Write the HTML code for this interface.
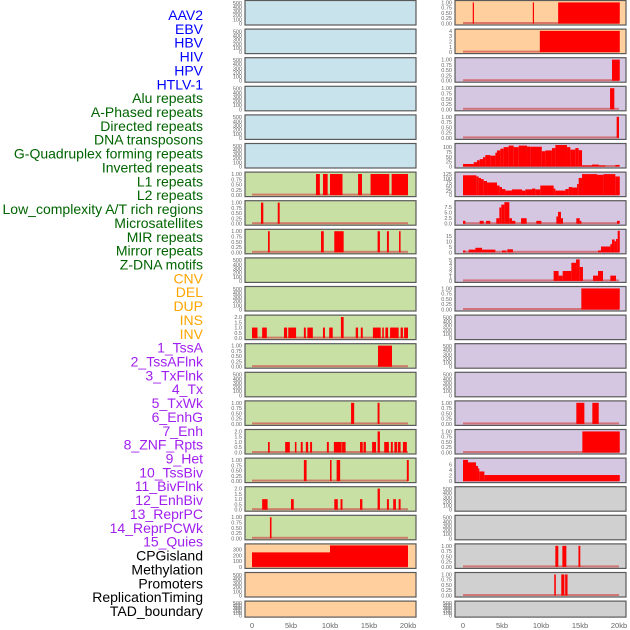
<!DOCTYPE html>
<html><head><meta charset="utf-8">
<style>
body{margin:0;background:#fff;}
svg{display:block;font-family:"Liberation Sans",sans-serif;}
</style></head>
<body>
<svg id="chart" width="630" height="630" viewBox="0 0 630 630"></svg>
<script>
// ---- data ----
const labels=["AAV2","EBV","HBV","HIV","HPV","HTLV-1","Alu repeats","A-Phased repeats","Directed repeats","DNA transposons","G-Quadruplex forming repeats","Inverted repeats","L1 repeats","L2 repeats","Low_complexity A/T rich regions","Microsatellites","MIR repeats","Mirror repeats","Z-DNA motifs","CNV","DEL","DUP","INS","INV","1_TssA","2_TssAFlnk","3_TxFlnk","4_Tx","5_TxWk","6_EnhG","7_Enh","8_ZNF_Rpts","9_Het","10_TssBiv","11_BivFlnk","12_EnhBiv","13_ReprPC","14_ReprPCWk","15_Quies","CPGisland","Methylation","Promoters","ReplicationTiming","TAD_boundary"];
const labelGroups=[6,13,5,15,5];
const xTicks=[0,5,10,15,20];
const xTickLabels=["0","5kb","10kb","15kb","20kb"];

// segments: [startKb, endKb, value]
const leftL1=[[8.2,8.7,1],[9.1,9.7,1],[10.0,11.6,1],[13.6,14.1,1],[15.2,17.6,1],[17.9,20.0,1]];
const leftR7=[[1.15,1.45,1],[3.3,3.55,1]];
const leftR8=[[2.05,2.27,1],[8.85,9.2,1],[10.55,11.75,1],[16.1,16.4,1],[17.3,17.55,1],[18.85,19.05,1]];
const leftR11=[[0,0.7,1],[1.3,1.9,1],[4.1,4.5,1],[4.65,5.65,1],[6.65,6.9,1],[7.1,7.8,1],[9.1,9.35,1],[9.9,10.35,1],[11.4,11.75,2],[13.3,13.6,1],[13.95,14.2,1],[15.5,16.5,1],[16.7,16.9,1],[17.1,17.45,1],[17.7,18.8,1],[19.05,19.35,1],[19.5,20.0,1]];
const leftR12=[[16.15,17.95,1]];
const leftR14=[[12.7,13.1,1],[16.1,16.35,1]];
const leftR15=[[2.05,2.27,1],[4.25,4.85,1],[5.5,5.7,1],[6.25,6.5,1],[6.9,7.2,1],[7.45,7.7,1],[9.6,9.85,1],[10.5,11.5,1],[11.55,12.0,1],[13.85,14.2,1],[14.3,14.6,1],[15.4,15.9,1],[16.1,16.4,2],[16.95,17.55,1],[17.8,18.05,1],[18.25,18.6,1],[18.7,19.05,1],[19.35,19.85,1]];
const leftR16=[[6.65,7.0,1],[10.0,10.2,1],[10.85,11.3,1],[19.85,20.1,1]];
const leftR17=[[1.3,2.0,1],[5.0,5.35,1],[10.55,11.0,1],[11.35,11.6,1],[13.85,14.15,1],[16.1,16.4,2],[17.3,17.55,1],[18.1,18.45,1],[18.8,19.05,1]];
const leftR18=[[2.3,2.5,1]];
const leftCpG=[[0,10,250],[10,20,370]];

const rightR0=[[1.25,1.4,1],[8.95,9.1,1],[12.2,20.1,1]];
const rightR1=[[9.85,20.1,4]];
const rightR2=[[19.1,20.1,1]];
const rightR3=[[18.85,19.4,1]];
const rightR4=[[19.7,20.0,1]];
const gquadBreaks=[0,1.37,1.79,2.14,2.56,2.86,3.5,4.15,4.36,4.79,5.21,5.85,6.5,7.14,8.2,8.63,10.1,10.56,11.4,11.84,13.33,13.76,14.4,14.83,15.26,16.54,17.4,18.25,19.53,20.1];
const gquadValues=[13,22,32,38,48,59,56,71,83,92,100,108,100,108,103,102,79,83,95,111,100,87,95,84,5,10,5,0,8];
const l2Breaks=[0,1.71,2.01,2.31,2.65,3.08,4.36,4.7,5.0,5.43,6.28,7.56,7.99,8.85,9.27,9.91,11.62,11.84,13.12,13.55,13.97,14.62,14.83,15.26,17.18,18.03,19.53,20.1];
const l2Values=[118,111,102,95,84,75,57,48,36,27,34,27,34,39,34,57,39,27,36,48,45,66,102,125,121,125,111];
const rightR7=[[0,0.3,1.3],[2.14,2.65,1.3],[2.95,3.5,1.3],[4.27,4.66,2.5],[4.66,4.91,7.4],[4.91,5.3,8.7],[5.3,5.94,9.8],[5.94,6.28,2.5],[6.28,6.71,1.3],[7.44,8.16,2.5],[9.4,10.04,1.3],[11.97,12.18,3.3],[12.18,12.56,5.4],[12.56,12.82,2.5],[14.53,14.96,2.5],[14.96,15.17,1.3],[19.74,20.1,1.3]];
const rightR8=[[0,0.3,1.7],[0.73,1.58,2.5],[1.58,2.44,4.2],[2.44,4.15,2.5],[5.0,5.56,1.7],[5.68,6.41,2.8],[17.31,17.69,1.7],[17.69,18.89,5.4],[18.89,19.1,7.6],[19.1,19.44,11.9],[19.44,19.62,10.2],[19.62,19.83,12.4],[19.83,20.1,20]];
const rightR9=[[11.62,12.26,2.35],[12.26,12.78,1.25],[12.78,13.89,2.35],[13.89,14.49,4.3],[14.49,14.96,5.1],[14.96,15.38,3.3],[16.67,17.31,1.25],[17.31,17.95,2.35],[18.89,19.62,1.25]];
const rightR10=[[15.17,20.1,1]];
const rightR14=[[14.53,15.56,1],[16.58,17.4,1]];
const rightR15=[[15.3,20.1,1]];
const rightR16=[[0,0.64,7.7],[0.64,1.67,6.8],[1.67,1.92,5.5],[1.92,2.09,4.6],[2.09,2.74,3.5],[2.74,20.1,2.2]];
const rightR19=[[11.84,12.22,1],[12.74,13.25,1],[14.8,15.04,1]];
const rightR20=[[11.7,11.9,1],[12.6,13.0,1],[13.1,13.4,1]];

// ---- rendering ----
const NS="http://www.w3.org/2000/svg";
const svg=document.getElementById('chart');
function mk(tag,attrs,parent){const e=document.createElementNS(NS,tag);for(const k in attrs)e.setAttribute(k,attrs[k]);(parent||svg).appendChild(e);return e;}
function fromBreaks(b,v){const s=[];for(let i=0;i<v.length;i++)s.push([b[i],b[i+1],v[i]]);return s;}

const BLUE="#c8e3ec",GREEN="#c8e0a4",PEACH="#ffd09e",LAV="#d5c6e2",GRAY="#d0d0d0";
const T500={max:520,ticks:[0,100,200,300,400,500],fmt:v=>String(v)};
const TF={max:1.02,ticks:[0,0.25,0.5,0.75,1],fmt:v=>v.toFixed(2)};
const T2={max:2.04,ticks:[0,0.5,1,1.5,2],fmt:v=>v.toFixed(1)};
function bgL(i){return i<6?BLUE:(i<19?GREEN:PEACH);}
function bgR(i){return i<2?PEACH:(i<17?LAV:GRAY);}
const leftSpec={6:[TF,leftL1],7:[TF,leftR7],8:[TF,leftR8],11:[T2,leftR11],12:[TF,leftR12],14:[TF,leftR14],15:[T2,leftR15],16:[TF,leftR16],17:[T2,leftR17],18:[TF,leftR18],19:[{max:370,ticks:[0,100,200,300],fmt:v=>String(v)},leftCpG]};
const rightSpec={0:[TF,rightR0],1:[{max:4.05,ticks:[0,1,2,3,4],fmt:v=>String(v)},rightR1],2:[TF,rightR2],3:[TF,rightR3],4:[TF,rightR4],
 5:[{max:111,ticks:[0,25,50,75,100],fmt:v=>String(v)},fromBreaks(gquadBreaks,gquadValues)],
 6:[{max:128,ticks:[0,25,50,75,100,125],fmt:v=>String(v)},fromBreaks(l2Breaks,l2Values)],
 7:[{max:9.8,ticks:[0,2.5,5,7.5],fmt:v=>v.toFixed(1)},rightR7],
 8:[{max:20,ticks:[0,5,10,15],fmt:v=>String(v)},rightR8],
 9:[{max:5.1,ticks:[0,1,2,3,4,5],fmt:v=>String(v)},rightR9],
 10:[TF,rightR10],14:[TF,rightR14],15:[TF,rightR15],
 16:[{max:7.8,ticks:[0,2,4,6],fmt:v=>String(v)},rightR16],
 19:[TF,rightR19],20:[TF,rightR20]};

function panel(col,i,bg,spec){
  const px0=col===0?245:455, pw=171;
  const x0=col===0?252:463, kbScale=7.8;
  const top=0.5+28.6*i, h=(i===21?16:24.5);
  const g=mk('g',{});
  
  
  mk('rect',{x:px0,y:top,width:pw,height:h,fill:bg},g);
  const base=top+h-1.5, ph=h-3;
  const t=spec?spec[0]:T500, segs=spec?spec[1]:null;
  const yv=v=>base-v/t.max*ph;
  const xv=k=>Math.min(px0+pw-1,x0+k*kbScale);
  t.ticks.forEach(v=>{
    const tx=mk('text',{x:px0-3,y:yv(v)+2,'font-size':5.5,fill:'#666','text-anchor':'end'},g);
    tx.textContent=t.fmt(v);
    
    
  });
  if(segs){
    mk('rect',{x:x0,y:base-1.5,width:20*kbScale,height:2,fill:'#d05050',opacity:0.7},g);
    segs.forEach(s=>{
      const r=mk('rect',{x:xv(s[0]),y:yv(s[2]),width:Math.max(1.2,xv(s[1])-xv(s[0])),height:base-yv(s[2]),fill:'#ff0000'},g);
      
      
    });
  }
  mk('rect',{x:px0,y:top,width:pw,height:h,fill:'none',stroke:'#5a5a5a','stroke-width':1.2},g);
}
for(let i=0;i<22;i++){panel(0,i,bgL(i),leftSpec[i]);panel(1,i,bgR(i),rightSpec[i]);}

// labels
const colors=["#0000ff","#006400","#ffa500","#a020f0","#000000"];
let gi=0,cnt=0;
labels.forEach((l,i)=>{
  while(cnt>=labelGroups[gi]){cnt=0;gi++;}
  cnt++;
  const t=mk('text',{x:203,y:20+i*13.86,'font-size':14,fill:colors[gi],'text-anchor':'end'});
  t.textContent=l;
  
  
});
// x axes
[252,463].forEach(x0=>{
  xTicks.forEach((k,j)=>{
    const t=mk('text',{x:x0+k*7.8,y:628,'font-size':7.5,fill:'#666','text-anchor':'middle'});
    t.textContent=xTickLabels[j];
    
    
  });
});
</script>
</body></html>
